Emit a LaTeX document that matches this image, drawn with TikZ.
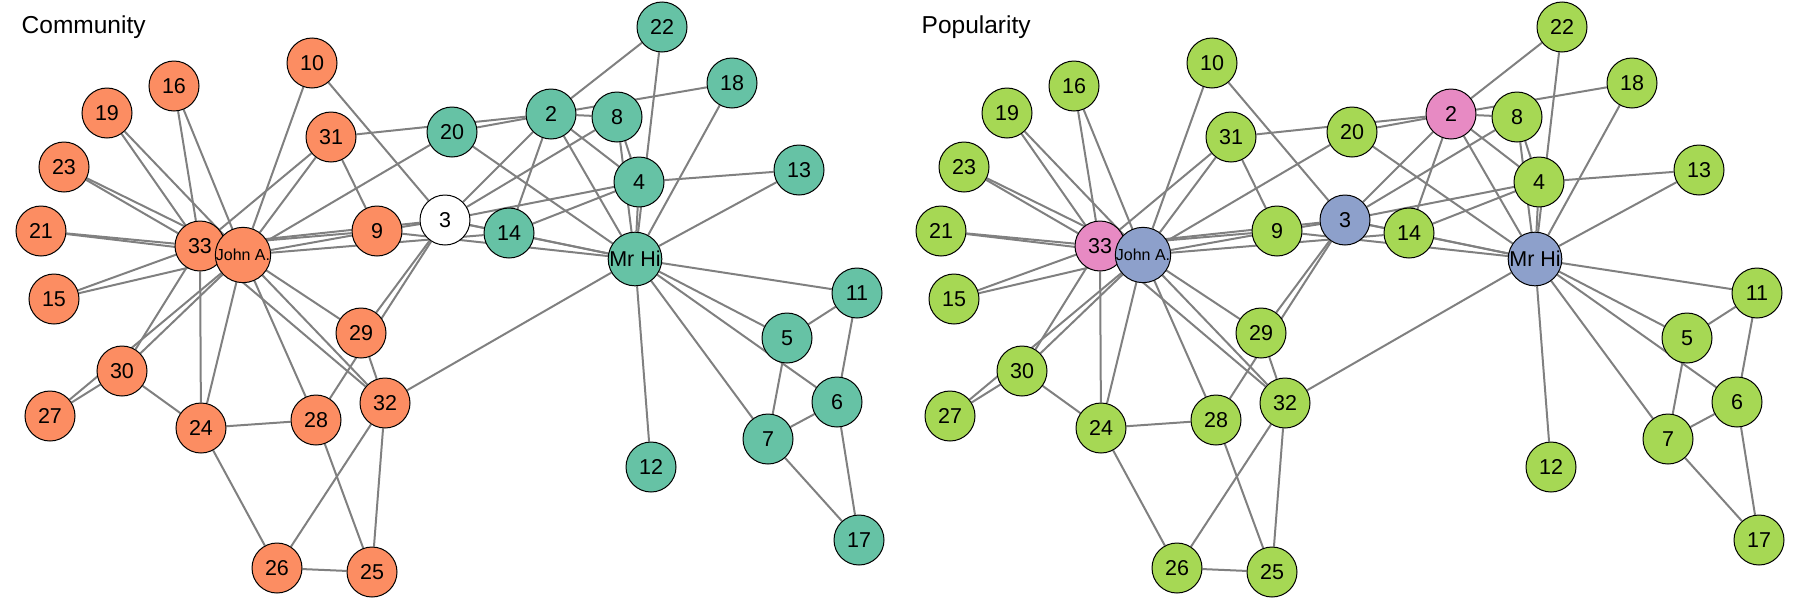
\documentclass[tikz,border=0pt]{standalone}
\usepackage{fontspec}
\setmainfont{Liberation Sans}
\usepackage{tikz}
\usetikzlibrary{backgrounds}
\definecolor{clubOrange}{HTML}{FC8D62}
\definecolor{clubTeal}{HTML}{66C2A5}
\definecolor{clubBlue}{HTML}{8DA0CB}
\definecolor{clubPink}{HTML}{E78AC3}
\definecolor{clubGreen}{HTML}{A6D854}
\definecolor{tieGray}{HTML}{808080}

\begin{document}
\begin{tikzpicture}[x=1pt, y=-1pt,
    member/.style={circle, draw=black, line width=1pt, minimum size=50pt, inner sep=0pt,
        font=\fontsize{21.5}{21.5}\selectfont},
    tie/.style={draw=tieGray, line width=2pt},
    panelTitle/.style={anchor=base west, inner sep=0pt, font=\fontsize{24.5}{28}\selectfont}]
        \useasboundingbox (0,0) rectangle (1800,600);

        % Panel titles
        \node[panelTitle] (titleL) at (21.5,33) {Community};
        \node[panelTitle] (titleR) at (921.5,33) {Popularity};

        % Members 2..33 (left panel and right panel)
        \foreach \v/\x/\y/\cl/\cr in {2/551/114/clubTeal/clubPink, 3/445/220/white/clubBlue,
                4/639/182/clubTeal/clubGreen, 5/787/338/clubTeal/clubGreen, 6/837/402/clubTeal/clubGreen,
                7/768/439/clubTeal/clubGreen, 8/617/117/clubTeal/clubGreen, 9/377/231/clubOrange/clubGreen,
                10/312/63/clubOrange/clubGreen, 11/857/293/clubTeal/clubGreen, 12/651/467/clubTeal/clubGreen,
                13/799/170/clubTeal/clubGreen, 14/509/233/clubTeal/clubGreen, 15/54/299/clubOrange/clubGreen,
                16/174/86/clubOrange/clubGreen, 17/859/540/clubTeal/clubGreen, 18/732/83/clubTeal/clubGreen,
                19/107/113/clubOrange/clubGreen, 20/452/132/clubTeal/clubGreen, 21/41/231/clubOrange/clubGreen,
                22/662/27/clubTeal/clubGreen, 23/64/167/clubOrange/clubGreen, 24/201/428/clubOrange/clubGreen,
                25/372/572/clubOrange/clubGreen, 26/277/568/clubOrange/clubGreen, 27/50/416/clubOrange/clubGreen,
                28/316/420/clubOrange/clubGreen, 29/361/333/clubOrange/clubGreen, 30/122/371/clubOrange/clubGreen,
                31/331/137/clubOrange/clubGreen, 32/385/403/clubOrange/clubGreen, 33/200/246/clubOrange/clubPink} {
            \node[member, fill=\cl] (L\v) at (\x,\y) {\v};
            \node[member, fill=\cr] (R\v) at (\x+900,\y) {\v};
        }

        % The two leaders
        \node[member, fill=clubTeal] (L1) at (635,259) {Mr Hi};
        \node[member, fill=clubBlue] (R1) at (1535,259) {Mr Hi};
        \node[member, fill=clubOrange, font=\fontsize{16}{16}\selectfont] (L34) at (243,255) {John A.};
        \node[member, fill=clubBlue, font=\fontsize{16}{16}\selectfont] (R34) at (1143,255) {John A.};

        % Ties
        \begin{pgfonlayer}{background}
        \foreach \a/\b in {1/2,1/3,1/4,1/5,1/6,1/7,1/8,1/9,1/11,1/12,1/13,1/14,1/18,1/20,1/22,1/32,
                2/3,2/4,2/8,2/14,2/18,2/20,2/22,2/31,3/4,3/8,3/9,3/10,3/14,3/28,3/29,3/33,
                4/8,4/13,4/14,5/7,5/11,6/7,6/11,6/17,7/17,9/31,9/33,9/34,10/34,14/34,
                15/33,15/34,16/33,16/34,19/33,19/34,20/34,21/33,21/34,23/33,23/34,
                24/26,24/28,24/30,24/33,24/34,25/26,25/28,25/32,26/32,27/30,27/34,28/34,
                29/32,29/34,30/33,30/34,31/33,31/34,32/33,32/34,33/34} {
            \draw[tie] (L\a) -- (L\b);
            \draw[tie] (R\a) -- (R\b);
        }
        \end{pgfonlayer}
    \end{tikzpicture}
\end{document}
